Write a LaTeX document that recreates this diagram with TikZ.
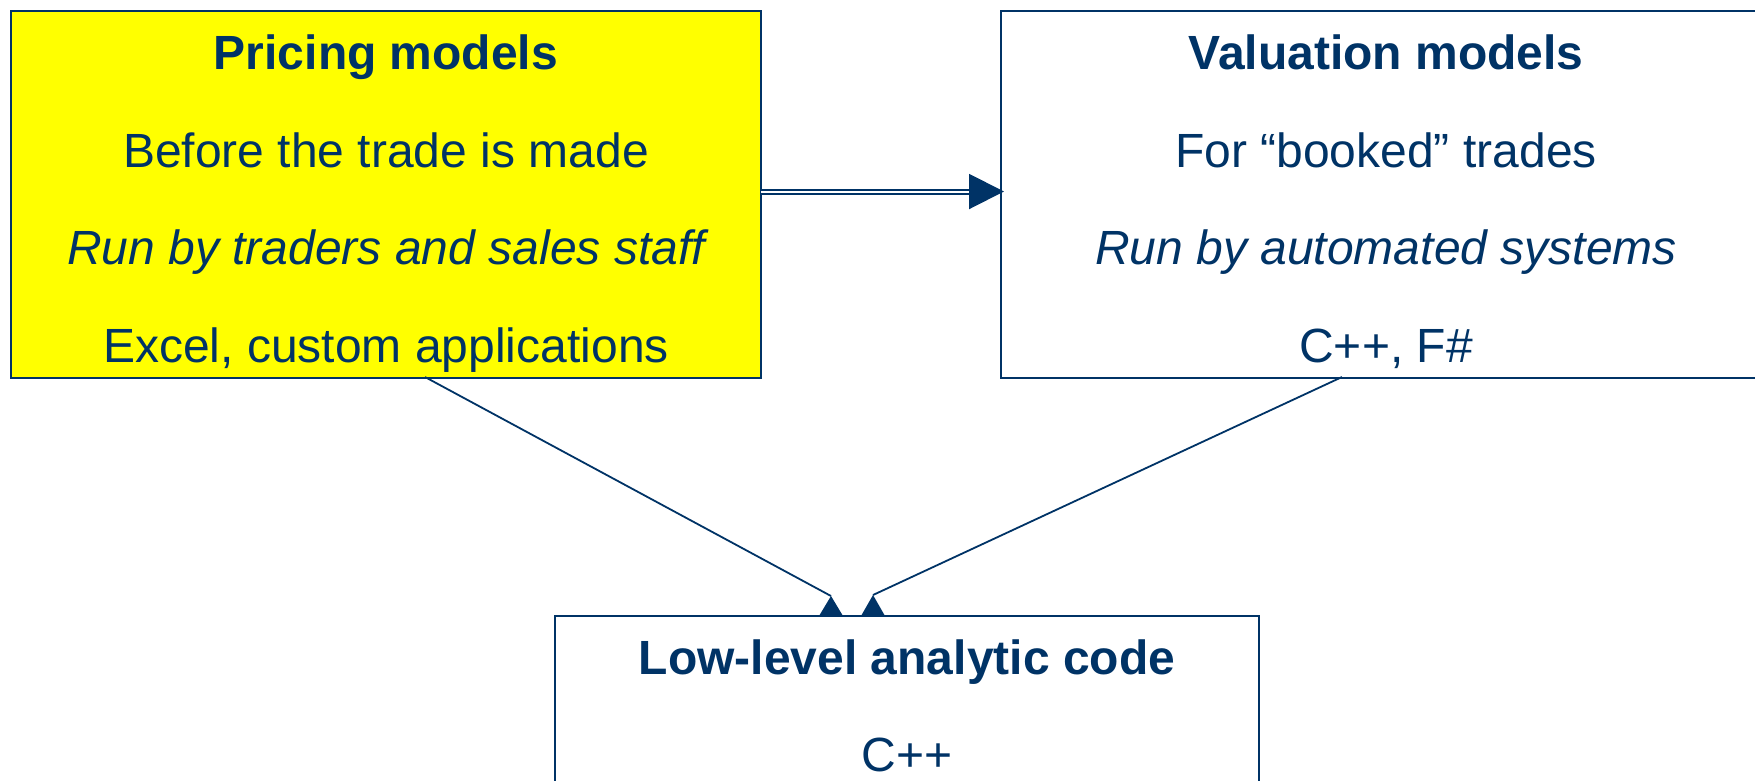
\documentclass[tikz,border=0pt]{standalone}
\usepackage{fontspec}
\setmainfont{Liberation Sans}
\usetikzlibrary{arrows.meta}
\definecolor{navy}{HTML}{003366}
\definecolor{hiyellow}{HTML}{FFFF00}
\begin{document}
\begin{tikzpicture}[x=1pt,y=-1pt,
  box/.style={draw=navy, line width=2pt, anchor=north west, inner sep=0pt, outer sep=0pt},
  txt/.style={text=navy, anchor=base, inner sep=0pt, font=\fontsize{48}{58}\selectfont},
  itxt/.style={txt, font=\fontsize{48}{58}\selectfont\itshape},
  head/.style={txt, font=\fontsize{48}{58}\selectfont\bfseries},
  link/.style={draw=navy, line width=1.8pt},
  dbl/.style={draw=navy, double=white, double distance=2pt, line width=2pt, -{Triangle[length=35pt,width=35pt]}},
  tri/.style={fill=navy}]
\useasboundingbox (0,0) rectangle (1755,780);
\clip (0,0) rectangle (1755,780);
% boxes
\node[box, fill=hiyellow, minimum width=750pt, minimum height=367pt] (pricing) at (11,11) {};
\node[box, fill=white, minimum width=790pt, minimum height=367pt] (valuation) at (1001,11) {};
\node[box, fill=white, minimum width=704pt, minimum height=220pt] (low) at (555,616) {};
% pricing texts
\node[head] (ph) at (386,69) {Pricing models};
\node[txt] (p1) at (386,167) {Before the trade is made};
\node[itxt] (p2) at (386,264) {Run by traders and sales staff};
\node[txt] (p3) at (386,362) {Excel, custom applications};
% valuation texts
\node[head] (vh) at (1386,69) {Valuation models};
\node[txt] (v1) at (1386,167) {For “booked” trades};
\node[itxt] (v2) at (1386,264) {Run by automated systems};
\node[txt] (v3) at (1386,362) {C++, F\#};
% low-level texts
\node[head] (lh) at (907,674) {Low-level analytic code};
\node[txt] (l1) at (907,771) {C++};
% double arrow
\coordinate (aE) at (1004,191.5);
\draw[dbl] (pricing.east |- aE) -- (aE);
% connectors to low-level box
\coordinate (ps) at (425,377);
\coordinate (vs) at (1342,377);
\coordinate (la) at (831,596);
\coordinate (ra) at (873,595);
\draw[link] (ps) -- (la);
\draw[link] (vs) -- (ra);
\fill[tri] (la) -- ++(-12,20) -- ++(24,0) -- cycle;
\fill[tri] (ra) -- ++(-12,21) -- ++(24,0) -- cycle;
\end{tikzpicture}
\end{document}
